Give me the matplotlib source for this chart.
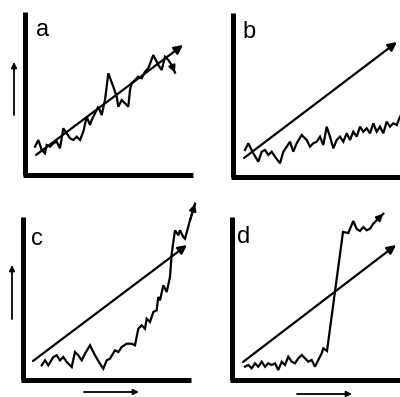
import matplotlib
matplotlib.use("Agg")
import matplotlib.pyplot as plt

# ---- panel labels ----
panel_labels = ["a", "b", "c", "d"]
label_pos = [(36, 36), (242, 38), (31, 245), (237, 243)]

# ---- axes (L-shaped frames): (x of vertical, y top, y of horizontal, x right) ----
frames = [(25, 12, 175, 193), (233, 13, 177, 400), (23, 217, 380, 191), (232, 217, 380, 400)]

# ---- trend arrows (start, end) ----
trend_start = [(36, 155), (244, 158), (33, 361), (243, 362)]
trend_end = [(183, 45), (397, 42), (187, 245), (396, 245)]

# ---- zigzag series (pixel coordinates of the schematic) ----
a_x = [35, 38.3, 41.7, 45, 46.7, 50, 53.3, 56.7, 60, 63.3, 66.7, 70, 73.3, 76.7, 80, 83.3,
       86.7, 90, 91.7, 95, 98.3, 101.7, 105, 108.3, 113.3, 116.7, 118.3, 121.7, 125, 128.3,
       130, 131.7, 135, 138.3, 141.7, 145, 148.3, 153.3, 158.3, 161.7, 165, 168.3, 171.7, 175]
a_y = [146.7, 140, 150, 153.3, 145, 146.7, 143.3, 141.7, 148.3, 128.3, 133.3, 138.3, 140,
       136.7, 140, 131.7, 116.7, 125, 120, 113.3, 106.7, 115, 100, 73.3, 86.7, 96.7, 106.7,
       100, 103.3, 106.7, 90, 83.3, 80, 76.7, 78.3, 71.7, 68.3, 55, 65, 70, 56.7, 60, 65, 72.7]

b_x = [245, 248.3, 253.3, 258.3, 261.7, 265, 268.3, 271.7, 275, 280, 283.3, 286.7, 290,
       293.3, 296.7, 301.7, 306.7, 310, 313.3, 316.7, 320, 323.3, 326.7, 330, 333.3, 336.7,
       340, 343.3, 346.7, 350, 353.3, 356.7, 360, 363.3, 366.7, 370, 373.3, 376.7, 380,
       383.3, 386.7, 390, 393.3, 396.7, 400]
b_y = [150, 143.3, 153.3, 161.7, 151.7, 150, 155, 151.7, 156.7, 163.3, 151.7, 146.7, 141.7,
       151.7, 143.3, 135, 140, 146.7, 143.3, 141.7, 136.7, 145, 126.7, 136.7, 148.3, 140,
       136.7, 141.7, 133.3, 140, 131.7, 136.7, 126.7, 131.7, 128.3, 133.3, 123.3, 131.7,
       126.7, 133.3, 121.7, 126.7, 123.3, 125, 116.7]

c_x = [41.7, 45, 48.3, 53.3, 56.7, 60, 63.3, 66.7, 71.7, 75, 78.3, 81.7, 85, 90, 95, 100,
       103.3, 106.7, 110, 115, 118.3, 121.7, 126.7, 131.7, 135, 138.3, 141.7, 145, 146.7,
       150, 153.3, 156.7, 158.3, 160, 163.3, 166.7, 170, 171.7, 175, 178.3, 180, 183.3,
       185, 190, 195]
c_y = [365.3, 360.3, 365.3, 357, 355.3, 360.3, 357, 362, 367, 352, 355.3, 360.3, 353.7,
       345.3, 355.3, 363.7, 368.7, 360.3, 358.7, 350.3, 352, 347, 343.7, 343.7, 345.3,
       328.7, 325.3, 328.7, 318.7, 322, 312, 310.3, 297, 300.3, 285.3, 292, 277, 253.7,
       230.3, 235.3, 230.3, 237, 238.7, 220.3, 203.7]

d_x = [245, 248.3, 251.7, 255, 258.3, 261.7, 265, 268.3, 271.7, 275, 278.3, 281.7, 285,
       288.3, 291.7, 295, 298.3, 301.7, 305, 308.3, 311.7, 315, 318.3, 321.7, 323.3, 327,
       343, 348.3, 353.3, 356.7, 360, 363.3, 366.7, 370, 373.3, 376.7, 383.3]
d_y = [366.7, 365, 368.3, 363.3, 366.7, 361.7, 366.7, 363.3, 365, 363.3, 370, 361.7, 365,
       356.7, 361.7, 363.3, 358.3, 355, 358.3, 361.7, 360, 366.7, 360, 353.3, 348.3, 351,
       232, 233, 221, 229, 231, 227, 230.3, 228.7, 223.7, 220.3, 213.7]

series_x = [a_x, b_x, c_x, d_x]
series_y = [a_y, b_y, c_y, d_y]
series_head = [True, False, True, True]

# ---- small direction arrows (start, end) ----
dir_start = [(14, 115), (12, 319), (84, 392), (297, 394)]
dir_end = [(14, 62), (12, 265), (139, 392), (352, 394)]

fig = plt.figure(figsize=(4.0, 3.97), dpi=100)
ax = fig.add_axes([0, 0, 1, 1])
ax.set_xlim(0, 400)
ax.set_ylim(397, 0)
ax.axis("off")

for (xv, yt, yh, xr) in frames:
    ax.plot([xv, xv], [yt, yh], color="black", lw=3.6, solid_capstyle="butt")
    ax.plot([xv - 1.8, xr], [yh, yh], color="black", lw=3.6, solid_capstyle="butt")

for lab, (lx, ly) in zip(panel_labels, label_pos):
    ax.text(lx, ly, lab, fontsize=17, family="Liberation Sans", ha="left", va="baseline")

for s, e in zip(trend_start, trend_end):
    ax.annotate("", xy=e, xytext=s,
                arrowprops=dict(arrowstyle="-|>", mutation_scale=13, lw=1.6,
                                color="black", shrinkA=0, shrinkB=0))

for xs, ys, head in zip(series_x, series_y, series_head):
    ax.plot(xs, ys, color="black", lw=1.6, solid_joinstyle="miter")
    if head:
        ax.annotate("", xy=(xs[-1], ys[-1]), xytext=(xs[-2], ys[-2]),
                    arrowprops=dict(arrowstyle="-|>", mutation_scale=10, lw=1.5,
                                    color="black", shrinkA=0, shrinkB=0))

for s, e in zip(dir_start, dir_end):
    ax.annotate("", xy=e, xytext=s,
                arrowprops=dict(arrowstyle="-|>", mutation_scale=8, lw=1.3,
                                color="black", shrinkA=0, shrinkB=0))

fig.savefig("out.png", dpi=100)
